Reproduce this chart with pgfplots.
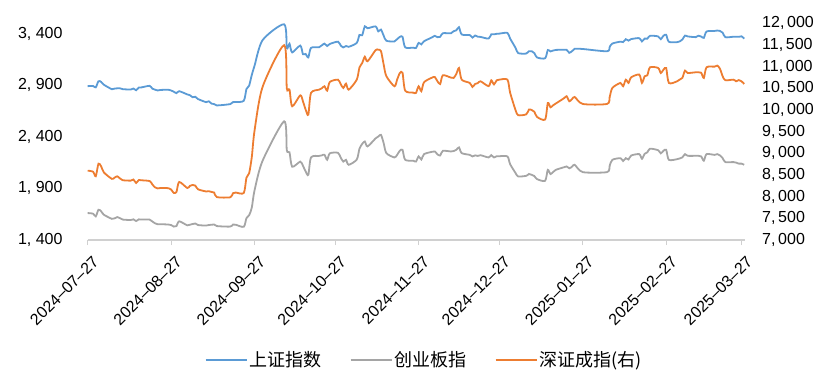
\documentclass[border=0pt]{standalone}
\usepackage{pgfplots}
\pgfplotsset{compat=1.18}
\usepackage{pgfplotstable}
\usepackage{fontspec}
\setmainfont{Liberation Sans}
\newfontfamily\cjk{Noto Sans CJK SC}
\definecolor{cblue}{HTML}{5B9BD5}
\definecolor{cgray}{HTML}{A5A5A5}
\definecolor{corange}{HTML}{ED7D31}
\definecolor{caxis}{HTML}{D0D0D0}

% d = days since 2024-07-27 ; sh = 上证指数 ; cy = 创业板指 ; sz = 深证成指
\pgfplotstableread{
d sh cy sz
0 2891 1661 8600
2 2892 1655 8575
3 2879 1629 8470
4 2939 1693 8761
5 2932 1678 8700
6 2905 1645 8560
9 2861 1605 8410
10 2867 1610 8440
11 2870 1622 8470
12 2870 1612 8420
13 2862 1598 8380
16 2858 1594 8370
17 2868 1600 8395
18 2851 1584 8316
19 2877 1600 8385
20 2879 1598 8378
23 2894 1598 8360
24 2867 1580 8285
25 2857 1562 8215
26 2849 1553 8190
27 2854 1553 8200
30 2856 1550 8195
31 2849 1545 8165
32 2837 1530 8085
33 2823 1535 8110
34 2842 1581 8339
37 2811 1542 8200
38 2803 1548 8250
39 2784 1555 8270
40 2788 1560 8255
41 2766 1545 8170
44 2736 1540 8120
45 2744 1545 8125
46 2722 1548 8110
47 2717 1550 8095
48 2704 1535 7990
53 2717 1530 7985
54 2736 1550 8080
55 2737 1548 8095
58 2749 1528 8085
59 2863 1612 8438
60 2896 1640 8540
61 3001 1715 8919
62 3088 1880 9518
65 3337 2168 10533
73 3490 2550 11495
74 3259 2270 10500
75 3302 2250 10470
76 3218 2110 10085
79 3284 2160 10339
80 3201 2120 10200
81 3203 2064 10010
82 3169 2032 9893
83 3262 2200 10393
86 3268 2215 10469
87 3286 2220 10500
88 3303 2226 10547
89 3280 2177 10446
90 3300 2240 10647
93 3322 2245 10700
94 3286 2200 10600
95 3266 2160 10508
96 3280 2177 10608
97 3272 2129 10469
100 3310 2180 10700
101 3387 2285 10980
102 3384 2330 11080
103 3471 2355 11230
104 3452 2307 11124
107 3470 2385 11380
108 3422 2403 11390
109 3439 2419 11360
110 3380 2339 11050
111 3331 2242 10780
114 3324 2200 10547
115 3346 2225 10700
116 3368 2265 10850
117 3370 2274 10860
118 3267 2177 10446
121 3264 2168 10400
122 3260 2160 10393
123 3310 2210 10547
124 3296 2180 10431
125 3326 2232 10640
128 3364 2255 10747
129 3379 2258 10760
130 3365 2230 10662
131 3369 2219 10600
132 3404 2264 10800
135 3403 2258 10747
136 3423 2262 10739
137 3432 2274 10831
138 3462 2297 10970
139 3392 2242 10700
142 3386 2225 10624
143 3361 2210 10531
144 3382 2220 10600
145 3370 2215 10620
146 3368 2222 10662
149 3352 2200 10550
150 3394 2222 10685
151 3393 2200 10590
152 3398 2212 10685
153 3400 2212 10700
156 3407 2210 10700
157 3352 2135 10400
159 3263 2050 10000
160 3211 2016 9880
163 3207 2022 9900
164 3230 2040 10010
165 3230 2032 10000
166 3211 2020 9960
167 3169 1990 9840
170 3161 1974 9780
171 3241 2080 10160
172 3227 2039 10062
173 3236 2060 10110
174 3242 2080 10150
177 3244 2105 10270
178 3243 2113 10316
179 3214 2095 10200
180 3230 2110 10250
181 3253 2129 10300
184 3251 2058 10139
193 3229 2058 10139
194 3271 2120 10300
195 3304 2177 10508
198 3322 2193 10624
199 3318 2165 10547
200 3346 2193 10700
201 3332 2180 10624
202 3347 2219 10754
205 3356 2232 10816
206 3324 2187 10624
207 3352 2235 10777
208 3351 2250 10800
209 3379 2285 10985
212 3373 2270 10970
213 3346 2240 10854
214 3380 2265 10930
215 3388 2274 10970
216 3321 2177 10624
219 3317 2183 10660
220 3324 2190 10700
221 3342 2200 10739
222 3381 2232 10908
223 3373 2216 10854
226 3366 2216 10870
227 3380 2216 10870
228 3372 2210 10860
229 3359 2168 10739
230 3420 2232 10985
233 3426 2225 11000
234 3430 2232 11024
235 3426 2220 10950
236 3409 2193 10777
237 3365 2155 10685
240 3370 2155 10700
241 3370 2150 10662
242 3369 2140 10690
243 3374 2140 10662
244 3351 2129 10600
}\data

\begin{document}
\begin{tikzpicture}
\path[use as bounding box] (-87.7bp,-148bp) rectangle (752.3bp,240bp);
\begin{axis}[
  at={(0,0)}, anchor=south west,
  scale only axis, width=657.3bp, height=216.7bp,
  xmin=0, xmax=244.3,
  ymin=1400, ymax=3500,
  scaled y ticks=false,
  ytick={1400,1900,2400,2900,3400},
  xtick={0,31,62,92,123,153,184,215,243},
  xticklabels={2024--07--27,2024--08--27,2024--09--27,2024--10--27,2024--11--27,2024--12--27,2025--01--27,2025--02--27,2025--03--27},
  axis x line*=bottom, axis y line*=left,
  y axis line style={draw=none},
  x axis line style={draw=caxis, line width=1.3bp, -},
  tick align=outside,
  major tick length=5bp,
  xtick style={draw=caxis, line width=1bp},
  ytick style={draw=none},
  /pgf/number format/assume math mode=true,
  /pgf/number format/1000 sep={,\ },
  tick label style={font=\fontsize{16bp}{19bp}\selectfont, text=black},
  xticklabel style={xshift=4bp, rotate=45, anchor=north east, inner sep=0pt},
  xticklabel shift=10bp,
  yticklabel style={anchor=east, inner sep=0pt},
  yticklabel shift=20bp,
  legend columns=3,
  legend style={draw=none, fill=none, at={(0.512,-0.554)}, anchor=center,
    font=\cjk\fontsize{18bp}{21bp}\selectfont,
    /tikz/every even column/.append style={column sep=26bp}},
  legend image code/.code={\draw[#1, line width=2bp] (0bp,0bp) -- (41bp,0bp);},
]
\addplot[cblue, line width=1.8bp, smooth, tension=0.45] table[x=d, y=sh] {\data};
\addlegendentry{上证指数}
\addplot[cgray, line width=1.8bp, smooth, tension=0.45] table[x=d, y=cy] {\data};
\addlegendentry{创业板指}
\addlegendimage{corange, line width=1.8bp}
\addlegendentry{深证成指(右)}
\end{axis}
\begin{axis}[
  at={(0,0)}, anchor=south west,
  scale only axis, width=657.3bp, height=216.7bp,
  xmin=0, xmax=244.3,
  ymin=7000, ymax=12000,
  scaled y ticks=false,
  ytick={7000,7500,...,12000},
  axis x line=none, axis y line*=right,
  y axis line style={draw=none},
  ytick style={draw=none},
  major tick length=0pt,
  /pgf/number format/assume math mode=true,
  /pgf/number format/1000 sep={,\,},
  tick label style={font=\fontsize{16bp}{19bp}\selectfont, text=black},
  yticklabel style={anchor=west, inner sep=0pt},
  yticklabel shift=17bp,
]
\addplot[corange, line width=1.8bp, smooth, tension=0.45] table[x=d, y=sz] {\data};
\end{axis}
\end{tikzpicture}
\end{document}
